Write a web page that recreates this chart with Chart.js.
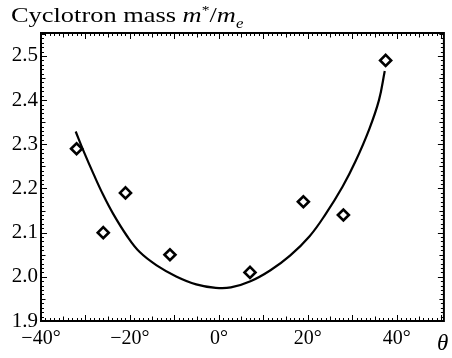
<!DOCTYPE html>
<html>
<head>
<meta charset="utf-8">
<script src="https://cdn.jsdelivr.net/npm/chart.js@4.4.1/dist/chart.umd.min.js"></script>
<style>
  html, body { margin: 0; padding: 0; background: #fff; }
  #wrap { position: relative; width: 452px; height: 358px; }
  #c { position: absolute; left: 0; top: 0; }
  .lbl { position: absolute; font-family: "Liberation Serif", serif; color: #000; white-space: nowrap; line-height: 1; }
  #title { left: 11px; top: 3px; font-size: 22px; transform: scaleX(1.2); transform-origin: 0 0; }
  #theta { left: 437px; top: 331px; font-size: 23px; font-style: italic; }
</style>
</head>
<body>
<div id="wrap">
  <canvas id="c" width="452" height="358"></canvas>
  <div id="title" class="lbl">Cyclotron mass <i>m</i><sup style="font-size:13px">*</sup>/<i>m</i><sub style="font-size:14px;font-style:italic">e</sub></div>
  <div id="theta" class="lbl">θ</div>
</div>
<script>
// measured points (angle in degrees, m*/me)
const measAngle = [-32, -26, -21, -11, 7, 19, 28, 37.5];
const measMass = [2.29, 2.10, 2.19, 2.05, 2.01, 2.17, 2.14, 2.49];

// fitted curve
const fitAngle = [-32.2, -30.4, -28.2, -26, -23.8, -20.7, -17.8, -14, -9.6, -5.1, -0.7, 2.7, 7.1, 11.6, 16, 20.4, 24, 27.8, 30.7, 33.8, 36, 37.3];
const fitMass = [2.329, 2.284, 2.233, 2.185, 2.143, 2.093, 2.056, 2.026, 2.001, 1.983, 1.975, 1.976, 1.990, 2.015, 2.048, 2.092, 2.142, 2.204, 2.261, 2.334, 2.400, 2.466];

// tick labels
const xTicks = [-40, -20, 0, 20, 40];
const yTicks = [1.9, 2.0, 2.1, 2.2, 2.3, 2.4, 2.5];

const FONT = "'Liberation Serif', 'Times New Roman', serif";

// inward ticks on all four sides + frame
const frameTicks = {
    id: 'frameTicks',
    afterDraw(chart) {
        const ctx = chart.ctx, a = chart.chartArea;
        const xs = chart.scales.x, ys = chart.scales.y;
        ctx.save();
        ctx.strokeStyle = '#000';
        ctx.lineWidth = 1;
        for (let i = Math.ceil(xs.min); i <= xs.max; i++) {
            const px = Math.round(xs.getPixelForValue(i)) + 0.5;
            const len = i % 10 === 0 ? 6 : (i % 5 === 0 ? 4.5 : 3);
            ctx.beginPath();
            ctx.moveTo(px, a.bottom); ctx.lineTo(px, a.bottom - len);
            ctx.moveTo(px, a.top); ctx.lineTo(px, a.top + len);
            ctx.stroke();
        }
        for (let j = Math.ceil(ys.min * 100); j <= ys.max * 100 + 0.001; j++) {
            const py = Math.round(ys.getPixelForValue(j / 100)) + 0.5;
            const len = j % 10 === 0 ? 6 : (j % 5 === 0 ? 4.5 : 3);
            ctx.beginPath();
            ctx.moveTo(a.left, py); ctx.lineTo(a.left + len, py);
            ctx.moveTo(a.right, py); ctx.lineTo(a.right - len, py);
            ctx.stroke();
        }
        ctx.lineWidth = 2;
        ctx.strokeRect(a.left, a.top, a.right - a.left, a.bottom - a.top);
        ctx.restore();
    }
};

new Chart(document.getElementById('c'), {
    type: 'scatter',
    data: {
        datasets: [{
            label: 'fit',
            data: fitAngle.map((x, i) => ({ x: x, y: fitMass[i] })),
            showLine: true,
            borderColor: '#000',
            borderWidth: 2.2,
            pointRadius: 0,
            tension: 0.4,
            fill: false
        }, {
            label: 'measured',
            data: measAngle.map((x, i) => ({ x: x, y: measMass[i] })),
            pointStyle: 'rectRot',
            pointRadius: 5.5,
            pointBorderWidth: 2.6,
            pointBorderColor: '#000',
            pointBackgroundColor: '#fff'
        }]
    },
    options: {
        responsive: false,
        animation: false,
        layout: { padding: { top: 33, right: 5, left: 0, bottom: 0 } },
        plugins: { legend: { display: false }, tooltip: { enabled: false } },
        scales: {
            x: {
                type: 'linear', min: -40, max: 50.6,
                afterBuildTicks: s => { s.ticks = xTicks.map(v => ({ value: v })); },
                afterFit: s => { s.height = 37; },
                grid: { display: false, drawTicks: false },
                border: { display: false },
                ticks: {
                    padding: 6,
                    color: '#000',
                    font: { family: FONT, size: 20 },
                    maxRotation: 0,
                    callback: v => (v < 0 ? '\u2212' + Math.abs(v) : v) + '°'
                }
            },
            y: {
                type: 'linear', min: 1.9, max: 2.552,
                afterBuildTicks: s => { s.ticks = yTicks.map(v => ({ value: v })); },
                afterFit: s => { s.width = 41; },
                grid: { display: false, drawTicks: false },
                border: { display: false },
                ticks: {
                    padding: 3,
                    color: '#000',
                    font: { family: FONT, size: 21 },
                    callback: v => v.toFixed(1)
                }
            }
        }
    },
    plugins: [frameTicks]
});
</script>
</body>
</html>
